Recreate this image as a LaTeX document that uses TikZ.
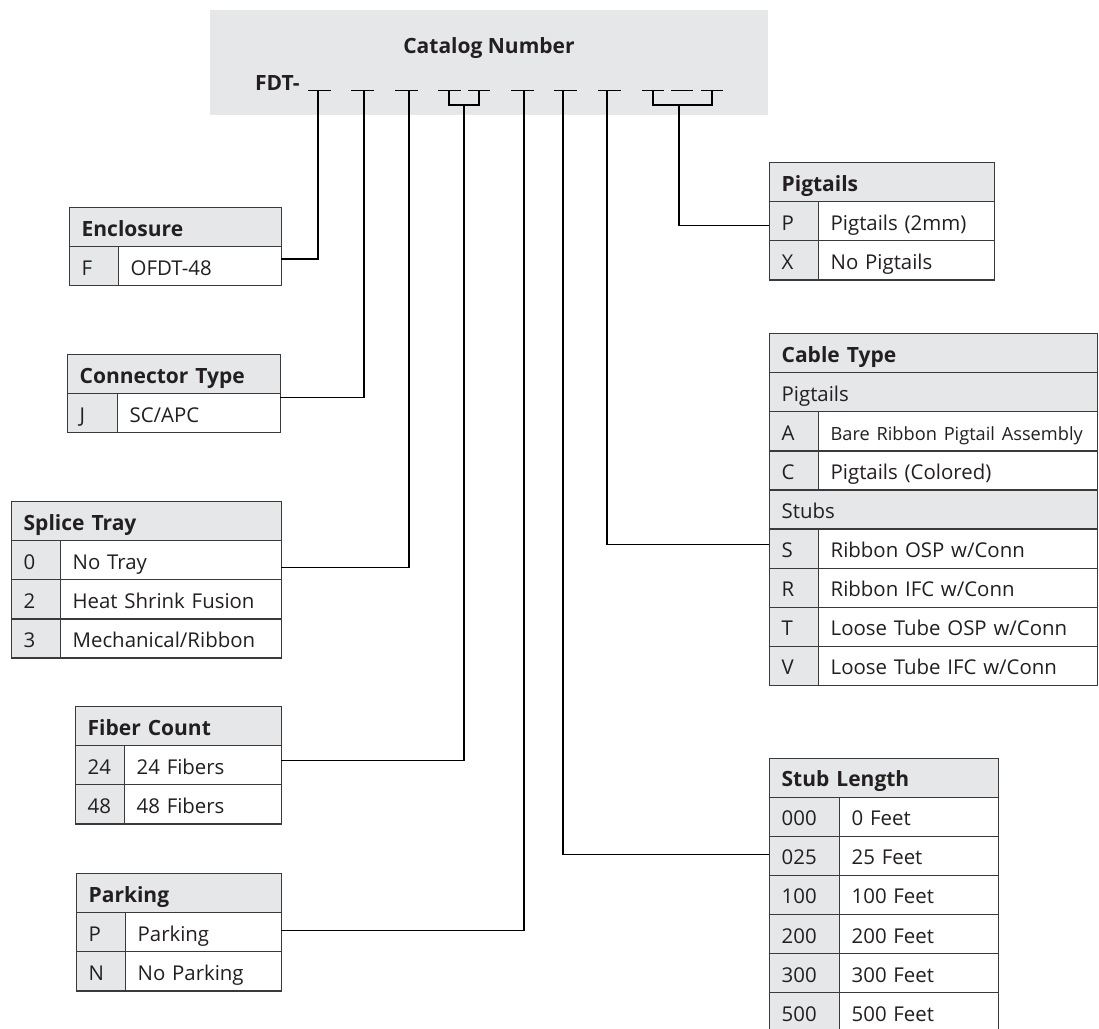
\documentclass[tikz,border=0pt]{standalone}
\usepackage{fontspec}
\setmainfont{Open Sans}
\definecolor{cellgray}{HTML}{E6E7E8}
\definecolor{rulecol}{HTML}{3A3A3A}
\definecolor{ink}{HTML}{231F20}
\newcommand\bodyfont{\fontsize{20.4}{24}\selectfont}
\newcommand\narrowfont{\fontsize{18.2}{24}\selectfont}
\newcommand\headfont{\fontsize{21}{24}\selectfont\bfseries}
\tikzset{
  cellbox/.style={draw=rulecol, line width=1.3pt, rectangle, anchor=north west,
    inner xsep=12pt, inner ysep=0pt, text height=18pt, text depth=0pt,
    align=left, font=\bodyfont, text=ink},
  headbox/.style={cellbox, fill=cellgray, font=\headfont},
  codebox/.style={cellbox, fill=cellgray},
  descbox/.style={cellbox, fill=white},
  subbox/.style={cellbox, fill=cellgray},
  wire/.style={line width=1.2pt, draw=black},
  blank/.style={line width=1pt, draw=black},
}
% style, name, x, y, width, height, text
\newcommand\mkcell[7]{%
  \pgfmathsetmacro\mytw{#5-24}%
  \node[#1, text width=\mytw pt, minimum width=#5pt, minimum height=#6pt] (#2) at (#3,#4) {\mbox{#7}};}
% name, L, D, R, top, code, desc
\newcommand\trow[7]{%
  \pgfmathsetmacro\mywa{#3-#2}%
  \mkcell{codebox}{#1c}{#2}{#5}{\mywa}{39.1}{#6}%
  \pgfmathsetmacro\mywb{#4-#3}%
  \mkcell{descbox}{#1d}{#3}{#5}{\mywb}{39.1}{#7}}
% name, L, R, top, text, style
\newcommand\hrow[6]{%
  \pgfmathsetmacro\mywa{#3-#2}%
  \mkcell{#6}{#1}{#2}{#4}{\mywa}{39.1}{#5}}
\begin{document}
\begin{tikzpicture}[x=1pt,y=-1pt]
\useasboundingbox (0,0) rectangle (1099,1028);

% ---- catalog number header ----
\fill[cellgray] (210,10) rectangle (768,115);
\node[anchor=base, font=\headfont, text=ink, inner sep=0pt] (title) at (489,53) {Catalog Number};
\node[anchor=base west, font=\headfont, text=ink, inner sep=0pt] (fdt) at (255,90) {FDT-};

% blanks
\foreach \a/\b in {308/331,351/374,395/418,438/461,468/490,511/534,554/577,598/621,642/664,671/693,701/723}
  \draw[blank] (\a,90) -- (\b,90);

\coordinate (b1) at (318,90);
\coordinate (b2) at (364,90);
\coordinate (b3) at (409,90);
\coordinate (b4) at (464,105);
\coordinate (b5) at (524,90);
\coordinate (b6) at (563,90);
\coordinate (b7) at (607,90);
\coordinate (b8) at (679,105);
\draw[wire] (449,90) -- (449,105) -- (479,105) -- (479,90);
\draw[wire] (653,90) -- (653,105) -- (712,105) -- (712,90);

% ---- Enclosure ----
\hrow{encH}{69}{281}{207}{Enclosure}{headbox}
\trow{enc1}{69}{118}{281}{246}{F}{OFDT-48}

% ---- Connector Type ----
\hrow{conH}{67}{280}{354}{Connector Type}{headbox}
\trow{con1}{67}{117}{280}{393}{J}{SC/APC}

% ---- Splice Tray ----
\hrow{splH}{11}{281}{501}{Splice Tray}{headbox}
\trow{spl1}{11}{60}{281}{540}{0}{No Tray}
\trow{spl2}{11}{60}{281}{579.1}{2}{Heat Shrink Fusion}
\trow{spl3}{11}{60}{281}{618.2}{3}{Mechanical/Ribbon}

% ---- Fiber Count ----
\hrow{fibH}{75}{281}{706}{Fiber Count}{headbox}
\trow{fib1}{75}{124}{281}{745}{24}{24 Fibers}
\trow{fib2}{75}{124}{281}{784.1}{48}{48 Fibers}

% ---- Parking ----
\hrow{parH}{76}{281}{873}{Parking}{headbox}
\trow{par1}{76}{125}{281}{912}{P}{Parking}
\trow{par2}{76}{125}{281}{951.1}{N}{No Parking}

% ---- Pigtails ----
\hrow{pigH}{769}{994}{162}{Pigtails}{headbox}
\trow{pig1}{769}{818}{994}{201}{P}{Pigtails (2mm)}
\trow{pig2}{769}{818}{994}{240.1}{X}{No Pigtails}

% ---- Cable Type ----
\hrow{cabH}{769}{1097}{333}{Cable Type}{headbox}
\hrow{cabS1}{769}{1097}{372}{Pigtails}{subbox}
\trow{cab1}{769}{818}{1097}{411.1}{A}{\narrowfont Bare Ribbon Pigtail Assembly}
\trow{cab2}{769}{818}{1097}{450.2}{C}{Pigtails (Colored)}
\hrow{cabS2}{769}{1097}{489.3}{Stubs}{subbox}
\trow{cab3}{769}{818}{1097}{528.4}{S}{Ribbon OSP w/Conn}
\trow{cab4}{769}{818}{1097}{567.5}{R}{Ribbon IFC w/Conn}
\trow{cab5}{769}{818}{1097}{606.6}{T}{Loose Tube OSP w/Conn}
\trow{cab6}{769}{818}{1097}{645.7}{V}{Loose Tube IFC w/Conn}

% ---- Stub Length ----
\hrow{stbH}{769}{998}{757.5}{Stub Length}{headbox}
\trow{stb1}{769}{839}{998}{796.5}{000}{0 Feet}
\trow{stb2}{769}{839}{998}{835.6}{025}{25 Feet}
\trow{stb3}{769}{839}{998}{874.7}{100}{100 Feet}
\trow{stb4}{769}{839}{998}{913.8}{200}{200 Feet}
\trow{stb5}{769}{839}{998}{952.9}{300}{300 Feet}
\trow{stb6}{769}{839}{998}{992}{500}{500 Feet}

% ---- connector ends ----
\coordinate (encin) at (281,259);
\coordinate (conin) at (280,397.7);
\coordinate (splin) at (281,567.3);
\coordinate (fibin) at (281,760.7);
\coordinate (parin) at (281,930.7);
\coordinate (stbin) at (769,854.3);
\coordinate (cabin) at (769,544.3);
\coordinate (pigin) at (769,225.3);

\draw[wire] (b1) |- (encin);
\draw[wire] (b2) |- (conin);
\draw[wire] (b3) |- (splin);
\draw[wire] (b4) |- (fibin);
\draw[wire] (b5) |- (parin);
\draw[wire] (b6) |- (stbin);
\draw[wire] (b7) |- (cabin);
\draw[wire] (b8) |- (pigin);
\end{tikzpicture}
\end{document}
